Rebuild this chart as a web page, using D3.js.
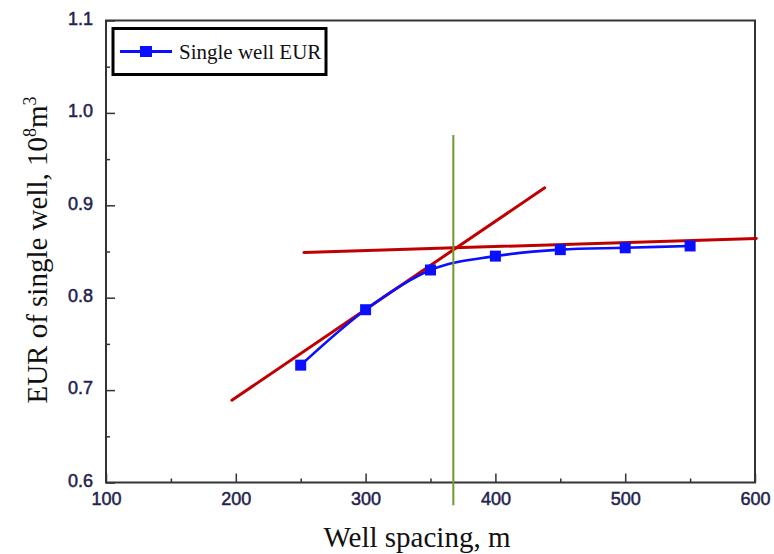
<!DOCTYPE html>
<html>
<head>
<meta charset="utf-8">
<script src="https://cdn.jsdelivr.net/npm/d3@7"></script>
<style>
  html, body { margin: 0; padding: 0; background: #fff; }
  svg { display: block; }
</style>
</head>
<body>
<svg id="chart" width="774" height="554"></svg>
<script>
// ---- data ----
const spacing = [250, 300, 350, 400, 450, 500, 550];
const eur = [0.727, 0.787, 0.830, 0.845, 0.852, 0.854, 0.856];
const xTicks = [100, 200, 300, 400, 500, 600];
const xMinorTicks = [150, 250, 350, 450, 550];
const yTicks = [0.6, 0.7, 0.8, 0.9, 1.0, 1.1];
const yMinorTicks = [0.65, 0.75, 0.85, 0.95, 1.05];
const steepX = [197, 438];
const steepY = [0.689, 0.919];
const flatX = [252.5, 601];
const flatY = [0.849, 0.864];
const optimumX = [367.6, 367.6];
const optimumY = [0.5755, 0.976];
const seriesName = "Single well EUR";

// ---- layout ----
const svg = d3.select("#chart");
const plotLeft = 106, plotRight = 755, plotTop = 20.5, plotBottom = 482.5;
const x = d3.scaleLinear().domain([100, 600]).range([plotLeft, plotRight]);
const y = d3.scaleLinear().domain([0.6, 1.1]).range([plotBottom, plotTop]);

const tickColor = "#22224e";
const frameColor = "#333";

// frame
svg.append("rect")
  .attr("x", plotLeft).attr("y", plotTop)
  .attr("width", plotRight - plotLeft).attr("height", plotBottom - plotTop)
  .attr("fill", "none").attr("stroke", frameColor).attr("stroke-width", 2);

// bottom axis (ticks inward)
const xAxis = d3.axisBottom(x).tickValues(xTicks).tickSize(-9).tickFormat(d3.format("d")).tickPadding(0);
const gx = svg.append("g").attr("transform", `translate(0,${plotBottom})`).call(xAxis);
gx.select(".domain").remove();
gx.selectAll(".tick line").attr("stroke", frameColor).attr("stroke-width", 1.5);
gx.selectAll(".tick text")
  .attr("y", 0).attr("dy", null)
  .attr("transform", "translate(0,22)")
  .attr("font-family", "Liberation Sans, Arial, sans-serif")
  .attr("font-size", 18).attr("fill", tickColor)
  .attr("stroke", tickColor).attr("stroke-width", 0.5);
const gxm = svg.append("g").attr("transform", `translate(0,${plotBottom})`)
  .call(d3.axisBottom(x).tickValues(xMinorTicks).tickSize(-4).tickFormat(""));
gxm.select(".domain").remove();
gxm.selectAll(".tick line").attr("stroke", frameColor).attr("stroke-width", 1.5);

// left axis (ticks inward)
const yAxis = d3.axisLeft(y).tickValues(yTicks).tickSize(-9).tickFormat(d3.format(".1f")).tickPadding(13);
const gy = svg.append("g").attr("transform", `translate(${plotLeft},0)`).call(yAxis);
gy.select(".domain").remove();
gy.selectAll(".tick line").attr("stroke", frameColor).attr("stroke-width", 1.5);
gy.selectAll(".tick text")
  .attr("x", -13).attr("y", -2)
  .attr("font-family", "Liberation Sans, Arial, sans-serif")
  .attr("font-size", 18).attr("fill", tickColor)
  .attr("stroke", tickColor).attr("stroke-width", 0.5);
const gym = svg.append("g").attr("transform", `translate(${plotLeft},0)`)
  .call(d3.axisLeft(y).tickValues(yMinorTicks).tickSize(-4).tickFormat(""));
gym.select(".domain").remove();
gym.selectAll(".tick line").attr("stroke", frameColor).attr("stroke-width", 1.5);

// axis titles
svg.append("text")
  .attr("x", 417).attr("y", 547)
  .attr("text-anchor", "middle")
  .attr("font-family", "Liberation Serif, Times New Roman, serif")
  .attr("font-size", 29).attr("fill", "#111")
  .text("Well spacing, m");

const yt = svg.append("text")
  .attr("transform", "translate(47,250) rotate(-90)")
  .attr("text-anchor", "middle")
  .attr("font-family", "Liberation Serif, Times New Roman, serif")
  .attr("font-size", 29).attr("fill", "#111");
yt.append("tspan").text("EUR of single well, 10");
yt.append("tspan").attr("font-size", 18).attr("dy", -11).text("8");
yt.append("tspan").attr("dy", 11).text("m");
yt.append("tspan").attr("font-size", 18).attr("dy", -11).text("3");

// tangent lines
const lineGen = d3.line().x(d => x(d[0])).y(d => y(d[1]));
svg.append("path")
  .datum(d3.zip(steepX, steepY))
  .attr("d", lineGen)
  .attr("stroke", "#c00000").attr("stroke-width", 3).attr("fill", "none")
  .attr("stroke-linecap", "round");
svg.append("path")
  .datum(d3.zip(flatX, flatY))
  .attr("d", lineGen)
  .attr("stroke", "#c00000").attr("stroke-width", 3).attr("fill", "none")
  .attr("stroke-linecap", "round");

// series
const curve = d3.line().x(d => x(d[0])).y(d => y(d[1])).curve(d3.curveMonotoneX);
const pts = d3.zip(spacing, eur);
svg.append("path")
  .datum(pts)
  .attr("d", curve)
  .attr("stroke", "#0a10ff").attr("stroke-width", 2.6).attr("fill", "none");
svg.selectAll("rect.pt").data(pts).enter().append("rect")
  .attr("class", "pt")
  .attr("x", d => x(d[0]) - 5.5).attr("y", d => y(d[1]) - 5.5)
  .attr("width", 11).attr("height", 11)
  .attr("fill", "#0a10ff");

// optimum vertical line
svg.append("path")
  .datum(d3.zip(optimumX, optimumY))
  .attr("d", lineGen)
  .attr("stroke", "#6e9a2a").attr("stroke-width", 2).attr("fill", "none");

// legend
const lg = svg.append("g");
lg.append("rect")
  .attr("x", 113).attr("y", 28.5).attr("width", 213).attr("height", 46)
  .attr("fill", "#fff").attr("stroke", "#000").attr("stroke-width", 3);
lg.append("line")
  .attr("x1", 120).attr("x2", 172).attr("y1", 51.5).attr("y2", 51.5)
  .attr("stroke", "#0a10ff").attr("stroke-width", 3);
lg.append("rect")
  .attr("x", 140).attr("y", 46).attr("width", 12).attr("height", 11)
  .attr("fill", "#0a10ff");
lg.append("text")
  .attr("x", 179).attr("y", 59)
  .attr("font-family", "Liberation Serif, Times New Roman, serif")
  .attr("font-size", 21).attr("fill", "#111")
  .text(seriesName);
</script>
</body>
</html>
